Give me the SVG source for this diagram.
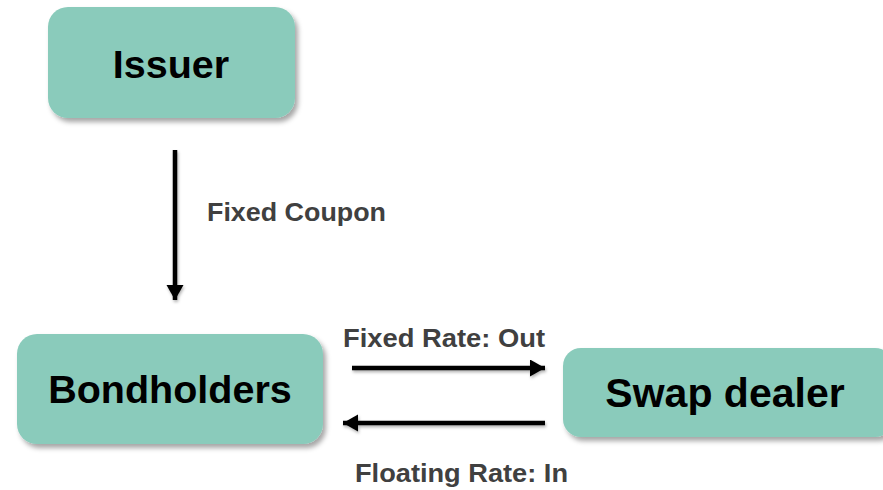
<svg xmlns="http://www.w3.org/2000/svg" width="883" height="490" viewBox="0 0 883 490">
<defs>
<style>
.box{fill:#8ACBBB;filter:url(#sh)}
.nt{font-family:"Liberation Sans",Arial,sans-serif;font-weight:bold;font-size:39.5px;fill:#000;text-anchor:middle}
.lb{font-family:"Liberation Sans",Arial,sans-serif;font-weight:bold;font-size:25.5px;fill:#404040}
.ar{stroke:#000;stroke-width:4.5;fill:none;marker-end:url(#ah);filter:url(#sh2)}
</style>
<filter id="sh" x="-10%" y="-10%" width="130%" height="140%">
<feDropShadow dx="3" dy="4" stdDeviation="2.5" flood-color="#000" flood-opacity="0.35"/>
</filter>
<filter id="sh2" filterUnits="userSpaceOnUse" x="0" y="0" width="883" height="490">
<feDropShadow dx="1" dy="2" stdDeviation="1.5" flood-color="#000" flood-opacity="0.3"/>
</filter>
<marker id="ah" markerUnits="userSpaceOnUse" markerWidth="18" markerHeight="18" refX="15" refY="8.5" orient="auto">
<path d="M0,0 L15,8.5 L0,17 Z" fill="#000"/>
</marker>
</defs>
<g id="issuer">
<rect class="box" x="48" y="7" width="247" height="111" rx="20"/>
<text class="nt" x="171" y="78">Issuer</text>
</g>
<g id="bondholders">
<rect class="box" x="17" y="334" width="306" height="110" rx="20"/>
<text class="nt" x="170" y="403">Bondholders</text>
</g>
<g id="swapdealer">
<rect class="box" x="563" y="348" width="330" height="89" rx="18"/>
<text class="nt" x="725" y="407" style="font-size:41px">Swap dealer</text>
</g>
<g id="connectors">
<line class="ar" x1="175" y1="150" x2="175" y2="300"/>
<line class="ar" x1="352" y1="368" x2="545" y2="368"/>
<line class="ar" x1="545" y1="423" x2="343" y2="423"/>
<text class="lb" x="207" y="221" textLength="179" lengthAdjust="spacingAndGlyphs">Fixed Coupon</text>
<text class="lb" x="343" y="347" textLength="202" lengthAdjust="spacingAndGlyphs">Fixed Rate: Out</text>
<text class="lb" x="355" y="482" textLength="213" lengthAdjust="spacingAndGlyphs">Floating Rate: In</text>
</g>
</svg>
